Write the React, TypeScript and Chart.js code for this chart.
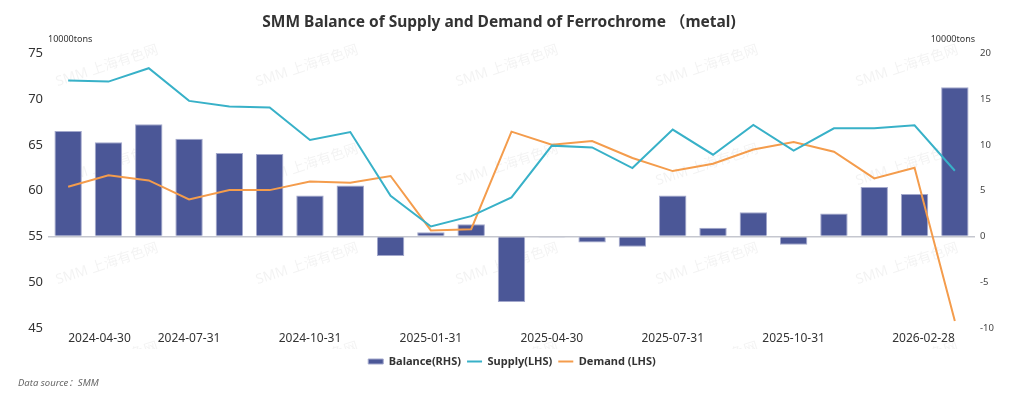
import React, { useEffect, useRef } from "react";
import { Chart, registerables } from "chart.js";

Chart.register(...registerables);

const FONT = '"Noto Sans", "Open Sans", sans-serif';

const categories = [
  "2024-04-30", "2024-05-31", "2024-06-30", "2024-07-31", "2024-08-31", "2024-09-30",
  "2024-10-31", "2024-11-30", "2024-12-31", "2025-01-31", "2025-02-28", "2025-03-31",
  "2025-04-30", "2025-05-31", "2025-06-30", "2025-07-31", "2025-08-31", "2025-09-30",
  "2025-10-31", "2025-11-30", "2025-12-31", "2026-01-31", "2026-02-28",
];

// Balance (RHS, 10000 tons)
const balance = [
  11.53, 10.29, 12.26, 10.69, 9.12, 9.01, 4.49, 5.58, -2.12, 0.47, 1.35, -7.15,
  -0.11, -0.66, -1.13, 4.49, 0.95, 2.66, -0.91, 2.52, 5.4, 4.64, 16.31,
];

// Supply (LHS, 10000 tons)
const supply = [
  72.04, 71.93, 73.39, 69.82, 69.2, 69.09, 65.55, 66.42, 59.45, 56.09, 57.23, 59.27,
  64.93, 64.74, 62.48, 66.68, 63.94, 67.2, 64.38, 66.82, 66.82, 67.15, 62.19,
];

// Demand (LHS, 10000 tons)
const demand = [
  60.44, 61.68, 61.13, 59.05, 60.07, 60.07, 61.02, 60.88, 61.61, 55.66, 55.8, 66.46,
  65.04, 65.44, 63.58, 62.15, 62.96, 64.5, 65.33, 64.27, 61.35, 62.52, 45.77,
];

// which category labels are shown on the x axis
const shownTickIndexes = [0, 3, 6, 9, 12, 15, 18, 22];

const leftAxis = { min: 45, max: 75, step: 5 };
const rightAxis = { min: -10, max: 20, step: 5 };

const titleText = "SMM Balance of Supply and Demand of Ferrochrome \uFF08metal)";
const unitText = "10000tons";
const sourceText = "Data source\uFF1ASMM";
const watermarkText = "SMM 上海有色网";

const BAR_COLOR = "#4b5797";
const BAR_BORDER = "#a3a8cc";
const SUPPLY_COLOR = "#38b1c8";
const DEMAND_COLOR = "#f49c4c";

const decorPlugin = {
  id: "decor",
  beforeDatasetsDraw(chart: any) {
    const ctx = chart.ctx as CanvasRenderingContext2D;
    ctx.save();
    ctx.beginPath();
    ctx.rect(0, 0, chart.width, 349);
    ctx.clip();
    ctx.fillStyle = "rgba(0,0,0,0.05)";
    ctx.font = `14px ${FONT}, "Noto Sans CJK SC"`;
    ctx.textAlign = "center";
    ctx.textBaseline = "middle";
    for (let j = 0; j < 4; j++) {
      for (let k = 0; k < 5; k++) {
        ctx.save();
        ctx.translate(107 + 200 * k, 66 + 99 * j);
        ctx.rotate((-18 * Math.PI) / 180);
        ctx.fillText(watermarkText, 0, 0);
        ctx.restore();
      }
    }
    ctx.restore();
  },
  afterDraw(chart: any) {
    const ctx = chart.ctx as CanvasRenderingContext2D;
    const area = chart.chartArea;
    ctx.save();
    ctx.fillStyle = "#333333";
    ctx.font = `bold 15.5px ${FONT}, "Noto Sans CJK SC"`;
    ctx.textAlign = "center";
    ctx.textBaseline = "middle";
    ctx.fillText(titleText, 499, 23);

    ctx.font = `9px ${FONT}`;
    ctx.fillStyle = "#333333";
    ctx.textBaseline = "middle";
    ctx.textAlign = "left";
    ctx.fillText(unitText, area.left, 39);
    ctx.textAlign = "right";
    ctx.fillText(unitText, area.right, 39);

    ctx.font = `italic 9.5px ${FONT}, "Noto Sans CJK SC"`;
    ctx.fillStyle = "#666666";
    ctx.textAlign = "left";
    ctx.fillText(sourceText, 18, 383);
    ctx.restore();
  },
};

export default function App() {
  const canvasRef = useRef<HTMLCanvasElement | null>(null);

  useEffect(() => {
    if (!canvasRef.current) return;
    const chart = new Chart(canvasRef.current, {
      type: "bar",
      data: {
        labels: categories,
        datasets: [
          {
            type: "bar",
            label: "Balance(RHS)",
            data: balance,
            yAxisID: "y1",
            backgroundColor: BAR_COLOR,
            borderColor: BAR_BORDER,
            borderWidth: 1,
            categoryPercentage: 1,
            barPercentage: 0.68,
            order: 3,
            pointStyle: "rect",
          } as any,
          {
            type: "line",
            label: "Supply(LHS)",
            data: supply,
            yAxisID: "y",
            borderColor: SUPPLY_COLOR,
            backgroundColor: SUPPLY_COLOR,
            borderWidth: 2,
            pointRadius: 0,
            pointHoverRadius: 0,
            tension: 0,
            order: 1,
            pointStyle: "line",
          } as any,
          {
            type: "line",
            label: "Demand (LHS)",
            data: demand,
            yAxisID: "y",
            borderColor: DEMAND_COLOR,
            backgroundColor: DEMAND_COLOR,
            borderWidth: 2,
            pointRadius: 0,
            pointHoverRadius: 0,
            tension: 0,
            order: 2,
            pointStyle: "line",
          } as any,
        ],
      },
      options: {
        responsive: false,
        animation: false,
        layout: { padding: { top: 53.5, left: 0, right: 0, bottom: 22 } },
        plugins: {
          title: { display: false },
          tooltip: { enabled: false },
          legend: {
            display: true,
            position: "bottom",
            labels: {
              usePointStyle: true,
              pointStyleWidth: 15,
              boxHeight: 5,
              padding: 6,
              color: "#333333",
              font: { family: FONT, size: 11, weight: "bold" },
              sort: (a: any, b: any) => a.datasetIndex - b.datasetIndex,
            },
          },
        },
        scales: {
          x: {
            grid: { display: false, drawTicks: false },
            border: { display: false },
            ticks: {
              autoSkip: false,
              maxRotation: 0,
              minRotation: 0,
              align: "inner",
              padding: 3,
              color: "#333333",
              font: { family: FONT, size: 12 },
              callback: (_v: any, i: number) =>
                shownTickIndexes.includes(i) ? categories[i] : "",
            },
            afterFit: (s: any) => {
              s.height = 22;
            },
          },
          y: {
            position: "left",
            min: leftAxis.min,
            max: leftAxis.max,
            grid: { display: false, drawTicks: false },
            border: { display: false },
            ticks: {
              stepSize: leftAxis.step,
              padding: 5,
              color: "#333333",
              font: { family: FONT, size: 13 },
            },
            afterFit: (s: any) => {
              s.width = 48;
            },
          },
          y1: {
            position: "right",
            min: rightAxis.min,
            max: rightAxis.max,
            grid: {
              drawTicks: false,
              color: (c: any) => (c.tick && c.tick.value === 0 ? "#c5c7cf" : "rgba(0,0,0,0)"),
              lineWidth: 1.5,
            },
            border: { display: false },
            ticks: {
              stepSize: rightAxis.step,
              padding: 5,
              color: "#444444",
              font: { family: FONT, size: 9.5 },
            },
            afterFit: (s: any) => {
              s.width = 49;
            },
          },
        },
      },
      plugins: [decorPlugin],
    } as any);
    return () => chart.destroy();
  }, []);

  return (
    <div style={{ position: "absolute", left: 0, top: 0, width: 1024, height: 399, background: "#fff" }}>
      <canvas ref={canvasRef} width={1024} height={399} style={{ display: "block" }} />
    </div>
  );
}
